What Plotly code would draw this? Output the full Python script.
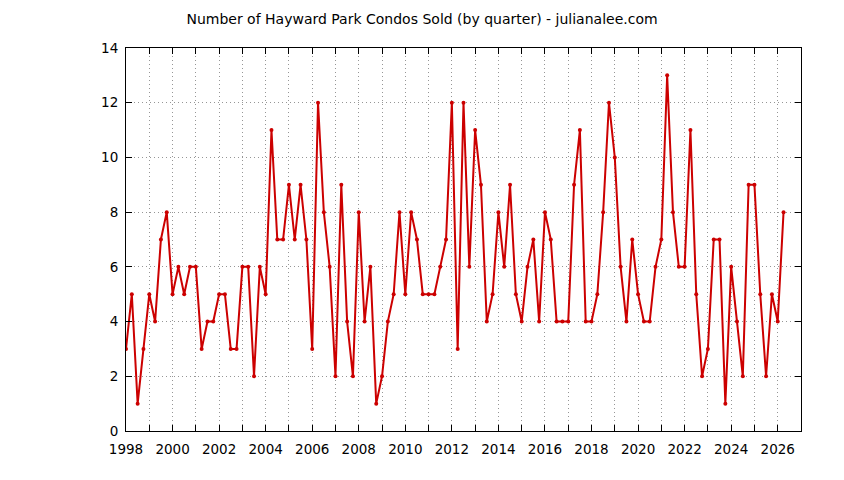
import plotly.graph_objects as go

# Condos vendidos por trimestre, 1998 Q1 .. 2026 Q2
start_year = 1998
sold = [
    3, 5, 1, 3, 5, 4, 7, 8,      # 1998-1999
    5, 6, 5, 6, 6, 3, 4, 4,      # 2000-2001
    5, 5, 3, 3, 6, 6, 2, 6,      # 2002-2003
    5, 11, 7, 7, 9, 7, 9, 7,     # 2004-2005
    3, 12, 8, 6, 2, 9, 4, 2,     # 2006-2007
    8, 4, 6, 1, 2, 4, 5, 8,      # 2008-2009
    5, 8, 7, 5, 5, 5, 6, 7,      # 2010-2011
    12, 3, 12, 6, 11, 9, 4, 5,   # 2012-2013
    8, 6, 9, 5, 4, 6, 7, 4,      # 2014-2015
    8, 7, 4, 4, 4, 9, 11, 4,     # 2016-2017
    4, 5, 8, 12, 10, 6, 4, 7,    # 2018-2019
    5, 4, 4, 6, 7, 13, 8, 6,     # 2020-2021
    6, 11, 5, 2, 3, 7, 7, 1,     # 2022-2023
    6, 4, 2, 9, 9, 5, 2, 5,      # 2024-2025
    4, 8,                        # 2026
]
quarters = [start_year + i / 4 for i in range(len(sold))]

x_ticks = list(range(1998, 2027, 2))
y_ticks = list(range(0, 15, 2))

red = 'rgb(204, 0, 0)'
grid = 'rgb(150, 150, 150)'
dots = '1px,3px'

fig = go.Figure()

fig.add_trace(go.Scatter(
    x=quarters,
    y=sold,
    mode='lines+markers',
    line=dict(color=red, width=2),
    marker=dict(color=red, size=4, symbol='circle'),
    showlegend=False,
))

# la pagina tiene 8px de margen en el body, se compensa aqui
fig.update_layout(
    width=844,
    height=480,
    margin=dict(l=118, r=51, t=40, b=57),
    paper_bgcolor='white',
    plot_bgcolor='white',
    font=dict(family='DejaVu Sans', size=13.5, color='black'),
    title=dict(
        text='Number of Hayward Park Condos Sold (by quarter) - julianalee.com',
        x=414 / 844, xref='container', xanchor='center',
        y=1 - 11 / 480, yref='container', yanchor='middle',
        font=dict(family='DejaVu Sans', size=14, color='black'),
    ),
)

fig.update_xaxes(
    range=[1998, 2027],
    tickvals=x_ticks,
    ticktext=[str(v) for v in x_ticks],
    ticks='inside', ticklen=6, tickcolor='black',
    ticklabelstandoff=6,
    showline=True, linecolor='black', linewidth=1, mirror='ticks',
    showgrid=True, gridcolor=grid, griddash=dots, gridwidth=1,
    minor=dict(dtick=1, tick0=1998, ticks='inside', ticklen=6, tickcolor='black',
               showgrid=True, gridcolor=grid, griddash=dots, gridwidth=1),
    zeroline=False,
)

fig.update_yaxes(
    range=[0, 14],
    tickvals=y_ticks,
    ticks='inside', ticklen=6, tickcolor='black',
    ticklabelstandoff=4,
    showline=True, linecolor='black', linewidth=1, mirror='ticks',
    showgrid=True, gridcolor=grid, griddash=dots, gridwidth=1,
    zeroline=False,
)

fig.write_html("out.html")
